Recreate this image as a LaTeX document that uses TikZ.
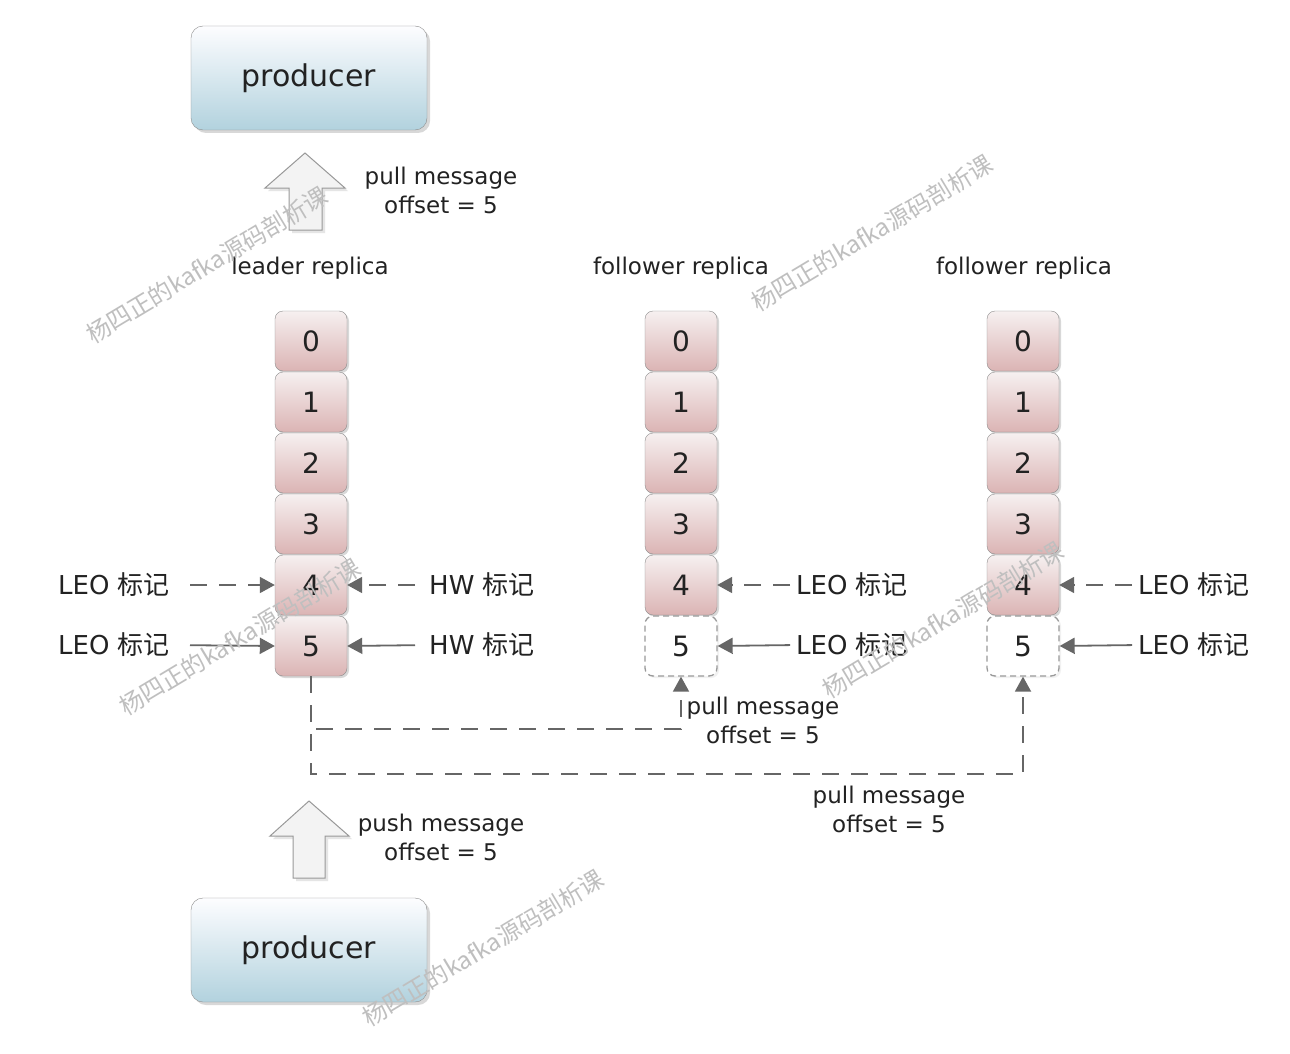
\documentclass[tikz,border=0pt]{standalone}
\usepackage{fontspec}
\setmainfont{DejaVu Sans}
\newfontfamily\cjk{Noto Sans CJK SC}
\usetikzlibrary{shadows,arrows.meta}
\definecolor{txt}{HTML}{222222}
\definecolor{ln}{HTML}{666666}
\definecolor{bd}{HTML}{8C8C8C}
\newcommand\bj{{\cjk 标记}}
\tikzset{
  prod/.style={draw=bd, rounded corners=12, top color=white!96!blue!20, bottom color={rgb,255:red,178;green,210;blue,222},
    minimum width=236, minimum height=104, text=txt, font=\fontsize{30}{34}\selectfont,
    drop shadow={shadow xshift=3pt, shadow yshift=-3pt, fill=black!30, opacity=0.5}},
  cell/.style={draw=bd, rounded corners=8, top color={rgb,255:red,246;green,240;blue,240}, bottom color={rgb,255:red,219;green,180;blue,180},
    minimum width=72, minimum height=60, text=txt, font=\fontsize{28}{32}\selectfont, inner sep=0,
    drop shadow={shadow xshift=2pt, shadow yshift=-2pt, fill=black!30, opacity=0.5}},
  ghost/.style={draw=black!40, line width=1.3pt, dash pattern=on 6pt off 4pt, rounded corners=8, fill=white,
    minimum width=72, minimum height=60, text=txt, font=\fontsize{28}{32}\selectfont, inner sep=0,
    drop shadow={shadow xshift=2pt, shadow yshift=-2pt, fill=black!10, opacity=0.5}},
  lbl/.style={text=txt, font=\fontsize{23}{29}\selectfont, inner sep=0, align=center},
  marklbl/.style={text=txt, font=\fontsize{26}{29}\selectfont, inner sep=0},
  conn/.style={draw=ln, line width=1.8pt, -{Triangle[length=15pt,width=16pt]}},
  dsh/.style={dash pattern=on 17pt off 12pt},
  blockarrow/.style={fill={rgb,255:red,243;green,243;blue,243}, draw=black!40, line width=1pt,
    drop shadow={shadow xshift=3pt, shadow yshift=-3pt, fill=black!20, opacity=0.5}},
  wm/.style={text=black!25, font=\cjk\fontsize{24}{26}\selectfont, rotate=31, inner sep=0}
}
\begin{document}
\begin{tikzpicture}[x=1pt,y=-1pt]
\useasboundingbox[fill=white] (0,0) rectangle (1290,1054);

% producers
\node[prod] (P1) at (309,78) {producer};
\node[prod] (P2) at (309,950) {producer};

% block arrows
\path[blockarrow] (305,153) -- (345,188) -- (322,188) -- (322,230) -- (289,230) -- (289,188) -- (265,188) -- cycle;
\path[blockarrow] (309,801) -- (349,836) -- (325,836) -- (325,878) -- (293,878) -- (293,836) -- (270,836) -- cycle;

\node[lbl] (tpull) at (441,190) {pull message\\offset = 5};
\node[lbl] (tpush) at (441,837) {push message\\offset = 5};

% headers
\node[lbl] (hL) at (310,268) {leader replica};
\node[lbl] (hF1) at (681,268) {follower replica};
\node[lbl] (hF2) at (1024,268) {follower replica};

% columns
\foreach \i/\y in {0/341,1/402,2/463,3/524,4/585,5/646}{
  \node[cell] (L\i) at (311,\y) {\i};
}
\foreach \i/\y in {0/341,1/402,2/463,3/524,4/585}{
  \node[cell] (A\i) at (681,\y) {\i};
  \node[cell] (B\i) at (1023,\y) {\i};
}
\node[ghost] (A5) at (681,646) {5};
\node[ghost] (B5) at (1023,646) {5};

% marks
\node[marklbl, anchor=east] (mL4) at (170,585) {LEO \bj};
\node[marklbl, anchor=east] (mL5) at (170,645) {LEO \bj};
\node[marklbl, anchor=west] (hw4) at (429,585) {HW \bj};
\node[marklbl, anchor=west] (hw5) at (429,645) {HW \bj};
\node[marklbl, anchor=west] (mA4) at (796,585) {LEO \bj};
\node[marklbl, anchor=west] (mA5) at (796,645) {LEO \bj};
\node[marklbl, anchor=west] (mB4) at (1138,585) {LEO \bj};
\node[marklbl, anchor=west] (mB5) at (1138,645) {LEO \bj};

\draw[conn,dsh, shorten <=20pt] (mL4.east) -- (L4.west);
\draw[conn, shorten <=20pt] (mL5.east) -- (L5.west);
\draw[conn,dsh, shorten <=14pt] (hw4.west) -- (L4.east);
\draw[conn, shorten <=14pt] (hw5.west) -- (L5.east);
\draw[conn,dsh, shorten <=6pt] (mA4.west) -- (A4.east);
\draw[conn, shorten <=6pt] (mA5.west) -- (A5.east);
\draw[conn,dsh, shorten <=6pt] (mB4.west) -- (B4.east);
\draw[conn, shorten <=6pt] (mB5.west) -- (B5.east);

% replication paths
\coordinate (y1) at (0,729);
\coordinate (y2) at (0,774);
\draw[conn,dsh] (L5.south) -- (L5.south |- y1) -| (A5.south);
\draw[conn,dsh] (L5.south) -- (L5.south |- y2) -| (B5.south);

\node[lbl] (tpa) at (763,720) {pull message\\offset = 5};
\node[lbl] (tpb) at (889,809) {pull message\\offset = 5};

% watermarks
\node[wm] (w1) at (207,265) {杨四正的kafka源码剖析课};
\node[wm] (w2) at (872,233) {杨四正的kafka源码剖析课};
\node[wm] (w3) at (240,637) {杨四正的kafka源码剖析课};
\node[wm] (w4) at (943,620) {杨四正的kafka源码剖析课};
\node[wm] (w5) at (483,948) {杨四正的kafka源码剖析课};
\end{tikzpicture}
\end{document}
